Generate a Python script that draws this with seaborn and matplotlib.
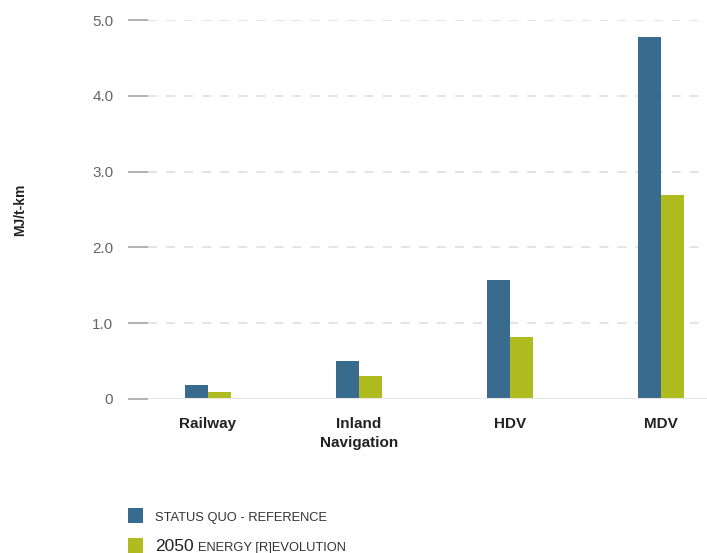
import matplotlib
matplotlib.use("Agg")
import matplotlib.pyplot as plt
import matplotlib.patches as mpatches
import pandas as pd
import seaborn as sns

sns.set_style("white")
plt.rcParams["font.family"] = ["Liberation Sans", "DejaVu Sans"]

categories = ["Railway", "Inland\nNavigation", "HDV", "MDV"]
status_quo = [0.18, 0.50, 1.57, 4.78]
energy_rev = [0.09, 0.30, 0.82, 2.69]
series = ["STATUS QUO - REFERENCE", "2050 ENERGY [R]EVOLUTION"]
colors = ["#386b8e", "#afbb1f"]
yticks = [0, 1, 2, 3, 4, 5]
ytick_labels = ["0", "1.0", "2.0", "3.0", "4.0", "5.0"]

df = pd.DataFrame({
    "category": categories * 2,
    "value": status_quo + energy_rev,
    "series": [series[0]] * 4 + [series[1]] * 4,
})

W, H = 707, 553
fig = plt.figure(figsize=(W / 100, H / 100), dpi=100)
ax = fig.add_axes([148 / W, 1 - 399 / H, 1 - 148 / W, (399 - 20) / H])

sns.barplot(data=df, x="category", y="value", hue="series", palette=colors,
            width=0.30, gap=0, saturation=1, ax=ax, legend=False,
            edgecolor="none", linewidth=0, zorder=3)

ax.set_xlim(-0.397, 3.305)
ax.set_ylim(0, 5.0)
ax.set_yticks(yticks)
ax.set_yticklabels(ytick_labels)
ax.grid(axis="y", color="#e2e2e2", linestyle=(0, (5, 5)), linewidth=1.3, zorder=0)
ax.grid(axis="x", visible=False)
ax.axhline(0, color="#e8e8e8", linewidth=1.5, zorder=4)
for s in ax.spines.values():
    s.set_visible(False)

ax.tick_params(axis="y", left=True, direction="out", length=14.5, width=1.3,
               color="#aaaaaa", pad=10.5, labelsize=11, labelcolor="#666666")
ax.tick_params(axis="x", bottom=False, length=0, pad=13, labelsize=11)
for t in ax.get_xticklabels():
    t.set_fontweight("bold")
    t.set_color("#222222")
    t.set_linespacing(1.45)

ax.set_xlabel("")
ax.set_ylabel("")
fig.text(20 / W, 1 - 210 / H, "MJ/t-km", rotation=90, ha="center", va="center",
         fontsize=10, fontweight="bold", color="#222222")

# legend: colour squares with small-caps style labels
for top, c in zip([508, 538], colors):
    fig.patches.append(mpatches.Rectangle((128 / W, 1 - (top + 15) / H), 15 / W, 15 / H,
                                          transform=fig.transFigure, facecolor=c,
                                          edgecolor="none"))

fig.text(155 / W, 1 - 521 / H, series[0], fontsize=9.3, color="#333333",
         va="baseline", ha="left")
year, rest = series[1].split(" ", 1)
t_year = fig.text(155 / W, 1 - 551 / H, year, fontsize=12.5, color="#222222",
                  va="baseline", ha="left")
fig.canvas.draw()
x_end = t_year.get_window_extent().x1
fig.text((x_end + 4) / W, 1 - 551 / H, rest, fontsize=9.3, color="#333333",
         va="baseline", ha="left")

fig.savefig("out.png", dpi=100)
